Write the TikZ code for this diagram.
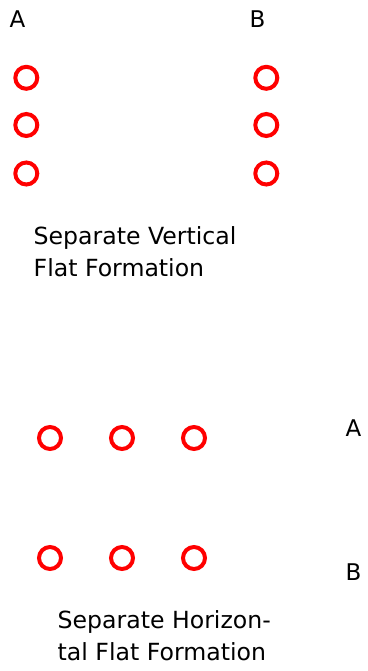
\documentclass[tikz,border=0pt]{standalone}
\usepackage{fontspec}
\setmainfont{DejaVu Sans}
\begin{document}
\begin{tikzpicture}[x=1pt,y=-1pt,
  ring/.style={circle,draw=red,line width=4pt,minimum size=22pt,inner sep=0pt},
  lbl/.style={anchor=base west,inner sep=0pt,font=\fontsize{23}{31.5}\selectfont},
  captext/.style={anchor=base west,inner sep=0pt,align=left,font=\fontsize{23.6}{31.5}\selectfont}]
\useasboundingbox (0,0) rectangle (367,671);
% top: vertical formation
\node[lbl] (la) at (9.5,28) {A};
\node[lbl] (lb) at (249.5,28) {B};
\node[ring] (a1) at (26.3,77.8) {};
\node[ring] (a2) at (26.3,125) {};
\node[ring] (a3) at (26.3,173.5) {};
\node[ring] (b1) at (266.3,77.8) {};
\node[ring] (b2) at (266.3,125) {};
\node[ring] (b3) at (266.3,173.5) {};
\node[captext] (t1) at (33.5,276) {Separate Vertical\\Flat Formation};
% bottom: horizontal formation
\node[ring] (c1) at (50,438) {};
\node[ring] (c2) at (122,438) {};
\node[ring] (c3) at (194,438) {};
\node[ring] (d1) at (50,558) {};
\node[ring] (d2) at (122,558) {};
\node[ring] (d3) at (194,558) {};
\node[lbl] (ra) at (345.5,436) {A};
\node[lbl] (rb) at (345.5,580) {B};
\node[captext] (t2) at (57.5,660) {Separate Horizon-\\tal Flat Formation};
\end{tikzpicture}
\end{document}
